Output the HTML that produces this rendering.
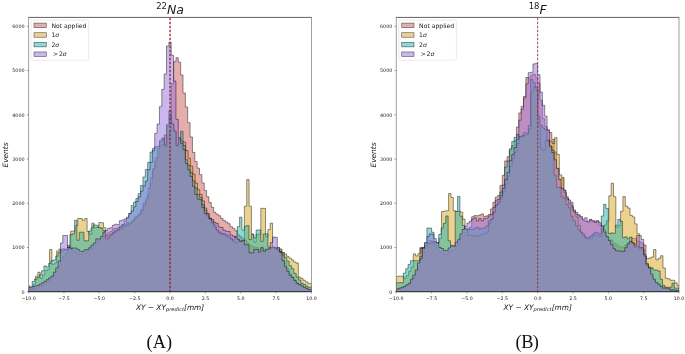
<!DOCTYPE html>
<html><head><meta charset="utf-8"><title>Histograms</title>
<style>
html,body{margin:0;padding:0;background:#fff;}
svg{display:block}
text{font-family:"DejaVu Sans","Liberation Sans",sans-serif;fill:#1a1a1a}
.tk{font-size:4.7px;fill:#222}
.lg{font-size:6.1px}
.ax{font-size:7.4px;font-style:italic}
.tt{font-size:12.5px;font-style:italic}
.cap{font-family:"Liberation Serif","DejaVu Serif",serif;font-size:18.3px;fill:#111}
</style></head><body>
<svg width="685" height="354" viewBox="0 0 685 354">
<rect width="685" height="354" fill="#fff"/>

<g>
<clipPath id="cp0"><rect x="28.60" y="17.40" width="282.90" height="274.80"/></clipPath>
<g clip-path="url(#cp0)">
<path d="M28.60 291.70L28.60 289.93L29.78 289.93L29.78 289.55L32.14 289.55L32.14 289.04L34.49 289.04L34.49 288.40L36.85 288.40L36.85 287.72L39.21 287.72L39.21 286.45L41.57 286.45L41.57 285.09L43.92 285.09L43.92 283.24L46.28 283.24L46.28 281.55L48.64 281.55L48.64 280.14L51.00 280.14L51.00 278.41L53.35 278.41L53.35 275.08L55.71 275.08L55.71 271.88L58.07 271.88L58.07 266.25L60.43 266.25L60.43 260.86L62.78 260.86L62.78 256.39L65.14 256.39L65.14 253.06L67.50 253.06L67.50 245.26L69.86 245.26L69.86 247.29L72.21 247.29L72.21 250.74L74.57 250.74L74.57 251.89L76.93 251.89L76.93 253.65L79.29 253.65L79.29 253.53L81.64 253.53L81.64 254.29L84.00 254.29L84.00 253.50L86.36 253.50L86.36 250.92L88.72 250.92L88.72 249.82L91.07 249.82L91.07 248.51L93.43 248.51L93.43 246.04L95.79 246.04L95.79 243.13L98.15 243.13L98.15 240.93L100.50 240.93L100.50 239.57L102.86 239.57L102.86 236.32L105.22 236.32L105.22 234.70L107.58 234.70L107.58 232.86L109.93 232.86L109.93 231.19L112.29 231.19L112.29 228.84L114.65 228.84L114.65 228.44L117.01 228.44L117.01 227.83L119.36 227.83L119.36 226.05L121.72 226.05L121.72 224.26L124.08 224.26L124.08 225.35L126.44 225.35L126.44 222.60L128.79 222.60L128.79 223.65L131.15 223.65L131.15 221.76L133.51 221.76L133.51 219.62L135.87 219.62L135.87 217.09L138.22 217.09L138.22 214.04L140.58 214.04L140.58 209.70L142.94 209.70L142.94 203.10L145.30 203.10L145.30 200.98L147.65 200.98L147.65 194.68L150.01 194.68L150.01 183.51L152.37 183.51L152.37 169.77L154.73 169.77L154.73 161.37L157.08 161.37L157.08 157.40L159.44 157.40L159.44 146.18L161.80 146.18L161.80 144.30L164.16 144.30L164.16 134.95L166.51 134.95L166.51 138.24L168.87 138.24L168.87 131.90L171.23 131.90L171.23 83.57L173.59 83.57L173.59 61.70L175.94 61.70L175.94 57.72L178.30 57.72L178.30 62.15L180.66 62.15L180.66 74.91L183.02 74.91L183.02 93.01L185.37 93.01L185.37 106.95L187.73 106.95L187.73 122.65L190.09 122.65L190.09 137.00L192.45 137.00L192.45 152.37L194.80 152.37L194.80 161.50L197.16 161.50L197.16 168.21L199.52 168.21L199.52 174.65L201.88 174.65L201.88 182.90L204.23 182.90L204.23 190.57L206.59 190.57L206.59 196.74L208.95 196.74L208.95 202.61L211.31 202.61L211.31 207.36L213.66 207.36L213.66 212.31L216.02 212.31L216.02 214.22L218.38 214.22L218.38 215.79L220.74 215.79L220.74 218.58L223.09 218.58L223.09 220.59L225.45 220.59L225.45 222.05L227.81 222.05L227.81 223.66L230.17 223.66L230.17 226.68L232.52 226.68L232.52 228.41L234.88 228.41L234.88 230.76L237.24 230.76L237.24 234.89L239.60 234.89L239.60 236.59L241.95 236.59L241.95 238.70L244.31 238.70L244.31 240.00L246.67 240.00L246.67 242.96L249.03 242.96L249.03 245.33L251.38 245.33L251.38 246.22L253.74 246.22L253.74 247.39L256.10 247.39L256.10 247.60L258.46 247.60L258.46 249.43L260.81 249.43L260.81 248.15L263.17 248.15L263.17 249.54L265.53 249.54L265.53 250.28L267.89 250.28L267.89 248.07L270.24 248.07L270.24 248.04L272.60 248.04L272.60 248.20L274.96 248.20L274.96 247.80L277.32 247.80L277.32 247.62L279.67 247.62L279.67 249.03L282.03 249.03L282.03 252.73L284.39 252.73L284.39 263.00L286.75 263.00L286.75 268.81L289.10 268.81L289.10 273.92L291.46 273.92L291.46 277.03L293.82 277.03L293.82 279.88L296.18 279.88L296.18 282.84L298.53 282.84L298.53 284.18L300.89 284.18L300.89 285.76L303.25 285.76L303.25 287.29L305.61 287.29L305.61 288.36L307.96 288.36L307.96 289.49L310.32 289.49L310.32 289.48L311.50 289.48L311.50 291.70 Z" fill="#cd5c5c" fill-opacity="0.5" stroke="#000" stroke-opacity="0.62" stroke-width="0.7" stroke-linejoin="miter"/>
<path d="M28.60 291.70L28.60 288.16L30.77 288.16L30.77 289.04L33.12 289.04L33.12 284.20L35.47 284.20L35.47 276.22L37.82 276.22L37.82 272.24L40.16 272.24L40.16 278.37L42.51 278.37L42.51 274.97L44.86 274.97L44.86 270.54L47.21 270.54L47.21 269.70L49.55 269.70L49.55 249.46L51.90 249.46L51.90 264.43L54.25 264.43L54.25 262.97L56.59 262.97L56.59 250.94L58.94 250.94L58.94 249.13L61.29 249.13L61.29 251.81L63.64 251.81L63.64 250.19L65.98 250.19L65.98 250.17L68.33 250.17L68.33 247.44L70.68 247.44L70.68 231.15L73.03 231.15L73.03 231.03L75.37 231.03L75.37 225.53L77.72 225.53L77.72 218.33L80.07 218.33L80.07 218.55L82.42 218.55L82.42 220.34L84.76 220.34L84.76 218.46L87.11 218.46L87.11 231.52L89.46 231.52L89.46 234.33L91.81 234.33L91.81 223.15L94.15 223.15L94.15 227.65L96.50 227.65L96.50 227.23L98.85 227.23L98.85 222.53L101.19 222.53L101.19 222.78L103.54 222.78L103.54 227.70L105.89 227.70L105.89 236.18L108.24 236.18L108.24 235.72L110.58 235.72L110.58 234.48L112.93 234.48L112.93 232.18L115.28 232.18L115.28 231.04L117.63 231.04L117.63 229.88L119.97 229.88L119.97 229.35L122.32 229.35L122.32 227.19L124.67 227.19L124.67 225.38L127.02 225.38L127.02 224.82L129.36 224.82L129.36 223.27L131.71 223.27L131.71 220.97L134.06 220.97L134.06 217.14L136.41 217.14L136.41 216.12L138.75 216.12L138.75 214.50L141.10 214.50L141.10 210.96L143.45 210.96L143.45 205.50L145.79 205.50L145.79 198.29L148.14 198.29L148.14 188.13L150.49 188.13L150.49 177.71L152.84 177.71L152.84 168.47L155.18 168.47L155.18 158.04L157.53 158.04L157.53 148.19L159.88 148.19L159.88 141.83L162.23 141.83L162.23 138.65L164.57 138.65L164.57 146.29L166.92 146.29L166.92 125.46L169.27 125.46L169.27 116.37L171.62 116.37L171.62 124.17L173.96 124.17L173.96 131.90L176.31 131.90L176.31 145.61L178.66 145.61L178.66 139.43L181.00 139.43L181.00 141.42L183.35 141.42L183.35 142.11L185.70 142.11L185.70 150.60L188.05 150.60L188.05 158.26L190.39 158.26L190.39 166.05L192.74 166.05L192.74 174.22L195.09 174.22L195.09 183.14L197.44 183.14L197.44 189.70L199.78 189.70L199.78 194.42L202.13 194.42L202.13 200.92L204.48 200.92L204.48 208.10L206.83 208.10L206.83 213.37L209.17 213.37L209.17 218.30L211.52 218.30L211.52 221.23L213.87 221.23L213.87 226.95L216.22 226.95L216.22 230.05L218.56 230.05L218.56 231.80L220.91 231.80L220.91 234.42L223.26 234.42L223.26 233.78L225.60 233.78L225.60 236.29L227.95 236.29L227.95 238.05L230.30 238.05L230.30 239.31L232.65 239.31L232.65 241.86L234.99 241.86L234.99 242.80L237.34 242.80L237.34 241.30L239.69 241.30L239.69 240.89L242.04 240.89L242.04 240.85L244.38 240.85L244.38 206.20L246.73 206.20L246.73 179.62L249.08 179.62L249.08 206.20L251.43 206.20L251.43 233.92L253.77 233.92L253.77 242.08L256.12 242.08L256.12 234.29L258.47 234.29L258.47 234.16L260.82 234.16L260.82 208.33L263.16 208.33L263.16 208.33L265.51 208.33L265.51 236.71L267.86 236.71L267.86 229.57L270.20 229.57L270.20 223.11L272.55 223.11L272.55 247.28L274.90 247.28L274.90 248.46L277.25 248.46L277.25 249.89L279.59 249.89L279.59 251.26L281.94 251.26L281.94 252.58L284.29 252.58L284.29 253.91L286.64 253.91L286.64 256.32L288.98 256.32L288.98 258.18L291.33 258.18L291.33 259.96L293.68 259.96L293.68 261.99L296.03 261.99L296.03 263.10L298.37 263.10L298.37 277.04L300.72 277.04L300.72 278.54L303.07 278.54L303.07 280.25L305.42 280.25L305.42 281.80L307.76 281.80L307.76 283.34L310.11 283.34L310.11 283.44L311.50 283.44L311.50 291.70 Z" fill="#daa520" fill-opacity="0.5" stroke="#000" stroke-opacity="0.62" stroke-width="0.7" stroke-linejoin="miter"/>
<path d="M28.60 291.70L28.60 285.74L29.78 285.74L29.78 287.27L32.14 287.27L32.14 281.47L34.49 281.47L34.49 279.28L36.85 279.28L36.85 277.60L39.21 277.60L39.21 274.73L41.57 274.73L41.57 270.79L43.92 270.79L43.92 265.93L46.28 265.93L46.28 267.00L48.64 267.00L48.64 263.41L51.00 263.41L51.00 260.64L53.35 260.64L53.35 259.97L55.71 259.97L55.71 256.16L58.07 256.16L58.07 252.55L60.43 252.55L60.43 249.85L62.78 249.85L62.78 248.69L65.14 248.69L65.14 249.49L67.50 249.49L67.50 247.53L69.86 247.53L69.86 234.52L72.21 234.52L72.21 233.89L74.57 233.89L74.57 220.27L76.93 220.27L76.93 240.25L79.29 240.25L79.29 232.23L81.64 232.23L81.64 232.17L84.00 232.17L84.00 240.73L86.36 240.73L86.36 240.79L88.72 240.79L88.72 230.90L91.07 230.90L91.07 227.82L93.43 227.82L93.43 224.95L95.79 224.95L95.79 225.21L98.15 225.21L98.15 227.55L100.50 227.55L100.50 228.12L102.86 228.12L102.86 230.65L105.22 230.65L105.22 238.87L107.58 238.87L107.58 237.84L109.93 237.84L109.93 234.64L112.29 234.64L112.29 232.86L114.65 232.86L114.65 230.60L117.01 230.60L117.01 229.70L119.36 229.70L119.36 227.45L121.72 227.45L121.72 225.03L124.08 225.03L124.08 221.15L126.44 221.15L126.44 218.49L128.79 218.49L128.79 213.62L131.15 213.62L131.15 205.58L133.51 205.58L133.51 202.12L135.87 202.12L135.87 198.61L138.22 198.61L138.22 193.65L140.58 193.65L140.58 185.48L142.94 185.48L142.94 176.95L145.30 176.95L145.30 169.49L147.65 169.49L147.65 162.30L150.01 162.30L150.01 152.15L152.37 152.15L152.37 148.48L154.73 148.48L154.73 146.87L157.08 146.87L157.08 146.30L159.44 146.30L159.44 140.56L161.80 140.56L161.80 137.91L164.16 137.91L164.16 145.16L166.51 145.16L166.51 124.68L168.87 124.68L168.87 110.36L171.23 110.36L171.23 123.82L173.59 123.82L173.59 130.59L175.94 130.59L175.94 145.61L178.30 145.61L178.30 138.47L180.66 138.47L180.66 131.37L183.02 131.37L183.02 145.57L185.37 145.57L185.37 159.67L187.73 159.67L187.73 165.50L190.09 165.50L190.09 172.64L192.45 172.64L192.45 180.82L194.80 180.82L194.80 188.16L197.16 188.16L197.16 194.38L199.52 194.38L199.52 197.37L201.88 197.37L201.88 204.58L204.23 204.58L204.23 210.28L206.59 210.28L206.59 215.96L208.95 215.96L208.95 218.66L211.31 218.66L211.31 222.81L213.66 222.81L213.66 225.19L216.02 225.19L216.02 230.11L218.38 230.11L218.38 232.96L220.74 232.96L220.74 233.19L223.09 233.19L223.09 234.15L225.45 234.15L225.45 235.04L227.81 235.04L227.81 235.72L230.17 235.72L230.17 238.66L232.52 238.66L232.52 240.20L234.88 240.20L234.88 236.41L237.24 236.41L237.24 226.68L239.60 226.68L239.60 217.17L241.95 217.17L241.95 230.04L244.31 230.04L244.31 226.13L246.67 226.13L246.67 225.73L249.03 225.73L249.03 239.60L251.38 239.60L251.38 234.42L253.74 234.42L253.74 237.98L256.10 237.98L256.10 230.08L258.46 230.08L258.46 229.91L260.81 229.91L260.81 241.32L263.17 241.32L263.17 233.92L265.53 233.92L265.53 233.82L267.89 233.82L267.89 247.07L270.24 247.07L270.24 247.26L272.60 247.26L272.60 247.22L274.96 247.22L274.96 248.26L277.32 248.26L277.32 249.89L279.67 249.89L279.67 251.78L282.03 251.78L282.03 254.91L284.39 254.91L284.39 257.43L286.75 257.43L286.75 261.24L289.10 261.24L289.10 265.65L291.46 265.65L291.46 268.67L293.82 268.67L293.82 273.33L296.18 273.33L296.18 277.06L298.53 277.06L298.53 280.00L300.89 280.00L300.89 283.31L303.25 283.31L303.25 284.43L305.61 284.43L305.61 286.06L307.96 286.06L307.96 287.25L310.32 287.25L310.32 287.29L311.50 287.29L311.50 291.70 Z" fill="#20b2aa" fill-opacity="0.5" stroke="#000" stroke-opacity="0.62" stroke-width="0.7" stroke-linejoin="miter"/>
<path d="M28.60 291.70L28.60 287.72L29.78 287.72L29.78 287.07L32.14 287.07L32.14 286.70L34.49 286.70L34.49 286.03L36.85 286.03L36.85 285.40L39.21 285.40L39.21 284.21L41.57 284.21L41.57 282.83L43.92 282.83L43.92 281.33L46.28 281.33L46.28 279.69L48.64 279.69L48.64 277.88L51.00 277.88L51.00 276.23L53.35 276.23L53.35 272.20L55.71 272.20L55.71 267.90L58.07 267.90L58.07 261.04L60.43 261.04L60.43 243.05L62.78 243.05L62.78 235.53L65.14 235.53L65.14 235.53L67.50 235.53L67.50 247.44L69.86 247.44L69.86 248.64L72.21 248.64L72.21 248.07L74.57 248.07L74.57 248.02L76.93 248.02L76.93 249.45L79.29 249.45L79.29 251.14L81.64 251.14L81.64 251.58L84.00 251.58L84.00 249.75L86.36 249.75L86.36 249.48L88.72 249.48L88.72 247.69L91.07 247.69L91.07 245.08L93.43 245.08L93.43 242.93L95.79 242.93L95.79 238.83L98.15 238.83L98.15 239.04L100.50 239.04L100.50 236.46L102.86 236.46L102.86 232.11L105.22 232.11L105.22 230.64L107.58 230.64L107.58 228.39L109.93 228.39L109.93 227.71L112.29 227.71L112.29 225.28L114.65 225.28L114.65 224.20L117.01 224.20L117.01 224.70L119.36 224.70L119.36 220.72L121.72 220.72L121.72 220.07L124.08 220.07L124.08 218.95L126.44 218.95L126.44 217.15L128.79 217.15L128.79 213.58L131.15 213.58L131.15 211.14L133.51 211.14L133.51 206.83L135.87 206.83L135.87 201.47L138.22 201.47L138.22 196.84L140.58 196.84L140.58 191.11L142.94 191.11L142.94 186.02L145.30 186.02L145.30 181.09L147.65 181.09L147.65 169.81L150.01 169.81L150.01 162.39L152.37 162.39L152.37 150.56L154.73 150.56L154.73 133.37L157.08 133.37L157.08 124.09L159.44 124.09L159.44 106.70L161.80 106.70L161.80 89.37L164.16 89.37L164.16 73.96L166.51 73.96L166.51 45.96L168.87 45.96L168.87 42.42L171.23 42.42L171.23 55.29L173.59 55.29L173.59 81.12L175.94 81.12L175.94 119.38L178.30 119.38L178.30 137.73L180.66 137.73L180.66 143.47L183.02 143.47L183.02 149.71L185.37 149.71L185.37 163.41L187.73 163.41L187.73 169.77L190.09 169.77L190.09 176.45L192.45 176.45L192.45 186.28L194.80 186.28L194.80 194.38L197.16 194.38L197.16 199.05L199.52 199.05L199.52 199.72L201.88 199.72L201.88 207.32L204.23 207.32L204.23 213.64L206.59 213.64L206.59 213.95L208.95 213.95L208.95 218.59L211.31 218.59L211.31 219.51L213.66 219.51L213.66 222.51L216.02 222.51L216.02 223.38L218.38 223.38L218.38 227.03L220.74 227.03L220.74 227.50L223.09 227.50L223.09 230.34L225.45 230.34L225.45 231.27L227.81 231.27L227.81 231.48L230.17 231.48L230.17 234.89L232.52 234.89L232.52 236.10L234.88 236.10L234.88 237.43L237.24 237.43L237.24 239.43L239.60 239.43L239.60 241.36L241.95 241.36L241.95 240.56L244.31 240.56L244.31 244.84L246.67 244.84L246.67 244.77L249.03 244.77L249.03 252.86L251.38 252.86L251.38 252.94L253.74 252.94L253.74 249.34L256.10 249.34L256.10 249.51L258.46 249.51L258.46 252.13L260.81 252.13L260.81 247.41L263.17 247.41L263.17 251.40L265.53 251.40L265.53 249.23L267.89 249.23L267.89 249.04L270.24 249.04L270.24 242.56L272.60 242.56L272.60 237.12L274.96 237.12L274.96 237.31L277.32 237.31L277.32 247.73L279.67 247.73L279.67 252.58L282.03 252.58L282.03 260.67L284.39 260.67L284.39 266.78L286.75 266.78L286.75 271.43L289.10 271.43L289.10 275.19L291.46 275.19L291.46 277.48L293.82 277.48L293.82 280.44L296.18 280.44L296.18 283.34L298.53 283.34L298.53 284.51L300.89 284.51L300.89 285.86L303.25 285.86L303.25 287.25L305.61 287.25L305.61 288.34L307.96 288.34L307.96 289.50L310.32 289.50L310.32 289.55L311.50 289.55L311.50 291.70 Z" fill="#9370db" fill-opacity="0.5" stroke="#000" stroke-opacity="0.62" stroke-width="0.7" stroke-linejoin="miter"/>
</g>
<line x1="170.05" y1="17.70" x2="170.05" y2="291.70" stroke="#96202c" stroke-width="1.30" stroke-dasharray="2.5 1.5" stroke-dashoffset="0"/>
<line x1="28.30" y1="17.40" x2="311.80" y2="17.40" stroke="#3a3a3a" stroke-width="0.8"/>
<line x1="28.30" y1="291.70" x2="311.80" y2="291.70" stroke="#3a3a3a" stroke-width="0.8"/>
<line x1="28.60" y1="17.40" x2="28.60" y2="291.70" stroke="#777" stroke-width="0.7"/>
<line x1="311.50" y1="17.40" x2="311.50" y2="291.70" stroke="#777" stroke-width="0.7"/>
<line x1="28.60" y1="291.70" x2="28.60" y2="293.50" stroke="#333" stroke-width="0.45"/>
<text class="tk" x="28.60" y="300.10" text-anchor="middle">−10.0</text>
<line x1="63.96" y1="291.70" x2="63.96" y2="293.50" stroke="#333" stroke-width="0.45"/>
<text class="tk" x="63.96" y="300.10" text-anchor="middle">−7.5</text>
<line x1="99.32" y1="291.70" x2="99.32" y2="293.50" stroke="#333" stroke-width="0.45"/>
<text class="tk" x="99.32" y="300.10" text-anchor="middle">−5.0</text>
<line x1="134.69" y1="291.70" x2="134.69" y2="293.50" stroke="#333" stroke-width="0.45"/>
<text class="tk" x="134.69" y="300.10" text-anchor="middle">−2.5</text>
<line x1="170.05" y1="291.70" x2="170.05" y2="293.50" stroke="#333" stroke-width="0.45"/>
<text class="tk" x="170.05" y="300.10" text-anchor="middle">0.0</text>
<line x1="205.41" y1="291.70" x2="205.41" y2="293.50" stroke="#333" stroke-width="0.45"/>
<text class="tk" x="205.41" y="300.10" text-anchor="middle">2.5</text>
<line x1="240.77" y1="291.70" x2="240.77" y2="293.50" stroke="#333" stroke-width="0.45"/>
<text class="tk" x="240.77" y="300.10" text-anchor="middle">5.0</text>
<line x1="276.14" y1="291.70" x2="276.14" y2="293.50" stroke="#333" stroke-width="0.45"/>
<text class="tk" x="276.14" y="300.10" text-anchor="middle">7.5</text>
<line x1="311.50" y1="291.70" x2="311.50" y2="293.50" stroke="#333" stroke-width="0.45"/>
<text class="tk" x="311.50" y="300.10" text-anchor="middle">10.0</text>
<line x1="26.80" y1="291.70" x2="28.60" y2="291.70" stroke="#333" stroke-width="0.45"/>
<text class="tk" style="font-size:4.85px" x="24.60" y="293.50" text-anchor="end">0</text>
<line x1="26.80" y1="247.47" x2="28.60" y2="247.47" stroke="#333" stroke-width="0.45"/>
<text class="tk" style="font-size:4.85px" x="24.60" y="249.27" text-anchor="end">1000</text>
<line x1="26.80" y1="203.24" x2="28.60" y2="203.24" stroke="#333" stroke-width="0.45"/>
<text class="tk" style="font-size:4.85px" x="24.60" y="205.04" text-anchor="end">2000</text>
<line x1="26.80" y1="159.01" x2="28.60" y2="159.01" stroke="#333" stroke-width="0.45"/>
<text class="tk" style="font-size:4.85px" x="24.60" y="160.81" text-anchor="end">3000</text>
<line x1="26.80" y1="114.78" x2="28.60" y2="114.78" stroke="#333" stroke-width="0.45"/>
<text class="tk" style="font-size:4.85px" x="24.60" y="116.58" text-anchor="end">4000</text>
<line x1="26.80" y1="70.55" x2="28.60" y2="70.55" stroke="#333" stroke-width="0.45"/>
<text class="tk" style="font-size:4.85px" x="24.60" y="72.35" text-anchor="end">5000</text>
<line x1="26.80" y1="26.32" x2="28.60" y2="26.32" stroke="#333" stroke-width="0.45"/>
<text class="tk" style="font-size:4.85px" x="24.60" y="28.12" text-anchor="end">6000</text>
<text class="ax" text-anchor="middle" transform="translate(8.10,155.00) rotate(-90)">Events</text>
<text class="ax" x="170.05" y="310.00" text-anchor="middle">XY − XY<tspan font-size="5.15px" dy="1.3">predict</tspan><tspan dy="-1.3">[mm]</tspan></text>
<text class="tt" x="170.05" y="13.90" text-anchor="middle"><tspan font-size="8.5px" font-style="normal" dy="-5.4">22</tspan><tspan dy="5.4">Na</tspan></text>
<rect x="31.10" y="20.20" width="57.6" height="40" rx="1.2" fill="#fff" fill-opacity="0.8" stroke="#d4d4d4" stroke-width="0.5"/>
<rect x="34.00" y="23.10" width="12.3" height="4.5" fill="#cd5c5c" fill-opacity="0.5" stroke="#000" stroke-opacity="0.6" stroke-width="0.65"/>
<text class="lg" x="51.40" y="27.60">Not applied</text>
<rect x="34.00" y="32.72" width="12.3" height="4.5" fill="#daa520" fill-opacity="0.5" stroke="#000" stroke-opacity="0.6" stroke-width="0.65"/>
<text class="lg" x="51.40" y="37.22">1<tspan font-style="italic">σ</tspan></text>
<rect x="34.00" y="42.34" width="12.3" height="4.5" fill="#20b2aa" fill-opacity="0.5" stroke="#000" stroke-opacity="0.6" stroke-width="0.65"/>
<text class="lg" x="51.40" y="46.84">2<tspan font-style="italic">σ</tspan></text>
<rect x="34.00" y="51.96" width="12.3" height="4.5" fill="#9370db" fill-opacity="0.5" stroke="#000" stroke-opacity="0.6" stroke-width="0.65"/>
<text class="lg" x="51.40" y="56.46"><tspan dx="1.6">&gt;</tspan><tspan dx="0.8">2</tspan><tspan font-style="italic">σ</tspan></text>
<text class="cap" x="159.30" y="348.40" text-anchor="middle">(A)</text>
</g>
<g>
<clipPath id="cp1"><rect x="396.30" y="17.40" width="282.70" height="274.80"/></clipPath>
<g clip-path="url(#cp1)">
<path d="M396.30 291.70L396.30 289.48L398.66 289.48L398.66 288.78L401.01 288.78L401.01 287.94L403.37 287.94L403.37 287.30L405.73 287.30L405.73 286.09L408.08 286.09L408.08 284.62L410.44 284.62L410.44 281.08L412.79 281.08L412.79 277.56L415.15 277.56L415.15 273.16L417.50 273.16L417.50 266.89L419.86 266.89L419.86 247.50L422.22 247.50L422.22 251.78L424.57 251.78L424.57 247.46L426.93 247.46L426.93 243.00L429.28 243.00L429.28 240.75L431.64 240.75L431.64 241.62L434.00 241.62L434.00 245.08L436.35 245.08L436.35 248.80L438.71 248.80L438.71 251.71L441.06 251.71L441.06 251.87L443.42 251.87L443.42 254.39L445.77 254.39L445.77 254.01L448.13 254.01L448.13 251.92L450.49 251.92L450.49 250.58L452.84 250.58L452.84 249.58L455.20 249.58L455.20 245.88L457.55 245.88L457.55 243.42L459.91 243.42L459.91 238.33L462.27 238.33L462.27 235.63L464.62 235.63L464.62 232.19L466.98 232.19L466.98 228.97L469.33 228.97L469.33 227.19L471.69 227.19L471.69 216.73L474.04 216.73L474.04 215.59L476.40 215.59L476.40 215.77L478.76 215.77L478.76 215.08L481.11 215.08L481.11 213.93L483.47 213.93L483.47 216.45L485.82 216.45L485.82 215.85L488.18 215.85L488.18 214.39L490.54 214.39L490.54 209.01L492.89 209.01L492.89 202.43L495.25 202.43L495.25 197.15L497.60 197.15L497.60 195.47L499.96 195.47L499.96 185.39L502.31 185.39L502.31 175.29L504.67 175.29L504.67 160.89L507.03 160.89L507.03 156.81L509.38 156.81L509.38 150.16L511.74 150.16L511.74 145.58L514.09 145.58L514.09 140.84L516.45 140.84L516.45 127.06L518.81 127.06L518.81 113.02L521.16 113.02L521.16 106.26L523.52 106.26L523.52 96.37L525.87 96.37L525.87 77.47L528.23 77.47L528.23 77.98L530.58 77.98L530.58 75.41L532.94 75.41L532.94 74.08L535.30 74.08L535.30 76.89L537.65 76.89L537.65 82.86L540.01 82.86L540.01 100.42L542.36 100.42L542.36 118.51L544.72 118.51L544.72 126.47L547.08 126.47L547.08 130.47L549.43 130.47L549.43 132.52L551.79 132.52L551.79 139.28L554.14 139.28L554.14 151.97L556.50 151.97L556.50 168.17L558.85 168.17L558.85 179.64L561.21 179.64L561.21 178.34L563.57 178.34L563.57 190.61L565.92 190.61L565.92 197.99L568.28 197.99L568.28 202.86L570.63 202.86L570.63 205.01L572.99 205.01L572.99 210.85L575.35 210.85L575.35 214.18L577.70 214.18L577.70 215.46L580.06 215.46L580.06 217.69L582.41 217.69L582.41 220.14L584.77 220.14L584.77 221.33L587.12 221.33L587.12 222.23L589.48 222.23L589.48 219.88L591.84 219.88L591.84 221.30L594.19 221.30L594.19 220.88L596.55 220.88L596.55 221.07L598.90 221.07L598.90 225.23L601.26 225.23L601.26 226.24L603.62 226.24L603.62 229.70L605.97 229.70L605.97 236.35L608.33 236.35L608.33 239.84L610.68 239.84L610.68 240.19L613.04 240.19L613.04 243.22L615.39 243.22L615.39 244.18L617.75 244.18L617.75 246.55L620.11 246.55L620.11 246.87L622.46 246.87L622.46 247.28L624.82 247.28L624.82 245.10L627.17 245.10L627.17 242.91L629.53 242.91L629.53 240.92L631.89 240.92L631.89 238.15L634.24 238.15L634.24 238.50L636.60 238.50L636.60 241.06L638.95 241.06L638.95 241.75L641.31 241.75L641.31 243.18L643.66 243.18L643.66 245.11L646.02 245.11L646.02 263.06L648.38 263.06L648.38 266.85L650.73 266.85L650.73 276.20L653.09 276.20L653.09 280.70L655.44 280.70L655.44 283.29L657.80 283.29L657.80 285.00L660.16 285.00L660.16 286.81L662.51 286.81L662.51 287.35L664.87 287.35L664.87 287.96L667.22 287.96L667.22 288.60L669.58 288.60L669.58 289.12L671.93 289.12L671.93 289.45L674.29 289.45L674.29 289.98L676.65 289.98L676.65 290.37L679.00 290.37L679.00 290.37L679.00 290.37L679.00 291.70 Z" fill="#cd5c5c" fill-opacity="0.5" stroke="#000" stroke-opacity="0.62" stroke-width="0.7" stroke-linejoin="miter"/>
<path d="M396.30 291.70L396.30 276.30L399.13 276.30L399.13 276.17L401.48 276.17L401.48 276.23L403.84 276.23L403.84 278.40L406.20 278.40L406.20 275.69L408.55 275.69L408.55 271.34L410.91 271.34L410.91 266.93L413.26 266.93L413.26 253.86L415.62 253.86L415.62 255.97L417.97 255.97L417.97 253.66L420.33 253.66L420.33 248.48L422.69 248.48L422.69 247.31L425.04 247.31L425.04 245.59L427.40 245.59L427.40 243.30L429.75 243.30L429.75 243.67L432.11 243.67L432.11 241.85L434.47 241.85L434.47 243.88L436.82 243.88L436.82 243.07L439.18 243.07L439.18 238.35L441.53 238.35L441.53 211.62L443.89 211.62L443.89 211.06L446.24 211.06L446.24 210.72L448.60 210.72L448.60 193.51L450.96 193.51L450.96 197.40L453.31 197.40L453.31 210.76L455.67 210.76L455.67 211.51L458.02 211.51L458.02 211.13L460.38 211.13L460.38 212.20L462.74 212.20L462.74 219.33L465.09 219.33L465.09 229.80L467.45 229.80L467.45 235.29L469.80 235.29L469.80 235.29L472.16 235.29L472.16 235.87L474.51 235.87L474.51 235.69L476.87 235.69L476.87 236.24L479.23 236.24L479.23 235.74L481.58 235.74L481.58 233.72L483.94 233.72L483.94 233.97L486.29 233.97L486.29 231.94L488.65 231.94L488.65 223.33L491.01 223.33L491.01 218.76L493.36 218.76L493.36 212.23L495.72 212.23L495.72 204.85L498.07 204.85L498.07 203.38L500.43 203.38L500.43 199.30L502.78 199.30L502.78 191.92L505.14 191.92L505.14 184.33L507.50 184.33L507.50 176.14L509.85 176.14L509.85 166.13L512.21 166.13L512.21 158.63L514.56 158.63L514.56 152.51L516.92 152.51L516.92 143.66L519.28 143.66L519.28 136.65L521.63 136.65L521.63 135.50L523.99 135.50L523.99 135.34L526.34 135.34L526.34 134.30L528.70 134.30L528.70 128.85L531.05 128.85L531.05 92.16L533.41 92.16L533.41 86.94L535.77 86.94L535.77 89.98L538.12 89.98L538.12 127.15L540.48 127.15L540.48 149.10L542.83 149.10L542.83 150.18L545.19 150.18L545.19 140.03L547.55 140.03L547.55 140.27L549.90 140.27L549.90 141.22L552.26 141.22L552.26 143.46L554.61 143.46L554.61 137.65L556.97 137.65L556.97 154.46L559.32 154.46L559.32 174.84L561.68 174.84L561.68 177.39L564.04 177.39L564.04 192.62L566.39 192.62L566.39 199.03L568.75 199.03L568.75 203.28L571.10 203.28L571.10 207.15L573.46 207.15L573.46 212.10L575.82 212.10L575.82 216.84L578.17 216.84L578.17 225.48L580.53 225.48L580.53 233.00L582.88 233.00L582.88 236.42L585.24 236.42L585.24 238.84L587.59 238.84L587.59 238.90L589.95 238.90L589.95 238.66L592.31 238.66L592.31 235.95L594.66 235.95L594.66 234.88L597.02 234.88L597.02 235.67L599.37 235.67L599.37 236.44L601.73 236.44L601.73 229.57L604.09 229.57L604.09 225.05L606.44 225.05L606.44 220.78L608.80 220.78L608.80 195.82L611.15 195.82L611.15 183.29L613.51 183.29L613.51 196.69L615.86 196.69L615.86 227.28L618.22 227.28L618.22 225.53L620.58 225.53L620.58 211.31L622.93 211.31L622.93 196.61L625.29 196.61L625.29 206.25L627.64 206.25L627.64 208.02L630.00 208.02L630.00 215.48L632.36 215.48L632.36 216.90L634.71 216.90L634.71 223.88L637.07 223.88L637.07 233.72L639.42 233.72L639.42 247.51L641.78 247.51L641.78 249.63L644.13 249.63L644.13 256.22L646.49 256.22L646.49 258.62L648.85 258.62L648.85 257.98L651.20 257.98L651.20 256.96L653.56 256.96L653.56 249.59L655.91 249.59L655.91 259.82L658.27 259.82L658.27 258.26L660.63 258.26L660.63 255.68L662.98 255.68L662.98 267.96L665.34 267.96L665.34 278.16L667.69 278.16L667.69 278.81L670.05 278.81L670.05 280.25L672.40 280.25L672.40 280.24L674.76 280.24L674.76 282.84L677.12 282.84L677.12 285.36L679.00 285.36L679.00 285.44L679.00 285.44L679.00 291.70 Z" fill="#daa520" fill-opacity="0.5" stroke="#000" stroke-opacity="0.62" stroke-width="0.7" stroke-linejoin="miter"/>
<path d="M396.30 291.70L396.30 282.81L398.66 282.81L398.66 282.61L401.01 282.61L401.01 282.81L403.37 282.81L403.37 273.12L405.73 273.12L405.73 268.77L408.08 268.77L408.08 264.44L410.44 264.44L410.44 260.76L412.79 260.76L412.79 260.78L415.15 260.78L415.15 260.70L417.50 260.70L417.50 260.75L419.86 260.75L419.86 256.29L422.22 256.29L422.22 247.45L424.57 247.45L424.57 242.89L426.93 242.89L426.93 227.98L429.28 227.98L429.28 228.05L431.64 228.05L431.64 232.26L434.00 232.26L434.00 241.54L436.35 241.54L436.35 242.77L438.71 242.77L438.71 234.32L441.06 234.32L441.06 228.00L443.42 228.00L443.42 223.32L445.77 223.32L445.77 215.94L448.13 215.94L448.13 240.84L450.49 240.84L450.49 245.26L452.84 245.26L452.84 246.59L455.20 246.59L455.20 211.42L457.55 211.42L457.55 196.38L459.91 196.38L459.91 216.15L462.27 216.15L462.27 225.48L464.62 225.48L464.62 228.53L466.98 228.53L466.98 229.25L469.33 229.25L469.33 229.45L471.69 229.45L471.69 229.34L474.04 229.34L474.04 227.90L476.40 227.90L476.40 227.24L478.76 227.24L478.76 229.03L481.11 229.03L481.11 228.27L483.47 228.27L483.47 228.01L485.82 228.01L485.82 226.00L488.18 226.00L488.18 220.81L490.54 220.81L490.54 219.10L492.89 219.10L492.89 211.99L495.25 211.99L495.25 205.15L497.60 205.15L497.60 201.54L499.96 201.54L499.96 192.01L502.31 192.01L502.31 184.96L504.67 184.96L504.67 167.13L507.03 167.13L507.03 161.09L509.38 161.09L509.38 148.75L511.74 148.75L511.74 141.41L514.09 141.41L514.09 137.47L516.45 137.47L516.45 134.44L518.81 134.44L518.81 136.82L521.16 136.82L521.16 136.89L523.52 136.89L523.52 132.68L525.87 132.68L525.87 133.24L528.23 133.24L528.23 125.38L530.58 125.38L530.58 79.53L532.94 79.53L532.94 82.71L535.30 82.71L535.30 87.31L537.65 87.31L537.65 116.35L540.01 116.35L540.01 125.52L542.36 125.52L542.36 128.03L544.72 128.03L544.72 129.87L547.08 129.87L547.08 140.89L549.43 140.89L549.43 146.50L551.79 146.50L551.79 150.27L554.14 150.27L554.14 175.43L556.50 175.43L556.50 187.45L558.85 187.45L558.85 187.01L561.21 187.01L561.21 196.94L563.57 196.94L563.57 198.57L565.92 198.57L565.92 204.55L568.28 204.55L568.28 207.76L570.63 207.76L570.63 216.22L572.99 216.22L572.99 220.59L575.35 220.59L575.35 225.81L577.70 225.81L577.70 229.77L580.06 229.77L580.06 231.98L582.41 231.98L582.41 234.00L584.77 234.00L584.77 237.06L587.12 237.06L587.12 237.77L589.48 237.77L589.48 236.41L591.84 236.41L591.84 234.33L594.19 234.33L594.19 232.22L596.55 232.22L596.55 232.83L598.90 232.83L598.90 233.98L601.26 233.98L601.26 216.04L603.62 216.04L603.62 204.30L605.97 204.30L605.97 208.41L608.33 208.41L608.33 233.54L610.68 233.54L610.68 232.90L613.04 232.90L613.04 233.27L615.39 233.27L615.39 225.15L617.75 225.15L617.75 219.47L620.11 219.47L620.11 221.10L622.46 221.10L622.46 237.53L624.82 237.53L624.82 236.86L627.17 236.86L627.17 238.90L629.53 238.90L629.53 237.11L631.89 237.11L631.89 243.05L634.24 243.05L634.24 247.21L636.60 247.21L636.60 246.19L638.95 246.19L638.95 248.19L641.31 248.19L641.31 247.28L643.66 247.28L643.66 256.18L646.02 256.18L646.02 265.25L648.38 265.25L648.38 267.95L650.73 267.95L650.73 267.86L653.09 267.86L653.09 269.97L655.44 269.97L655.44 270.13L657.80 270.13L657.80 271.04L660.16 271.04L660.16 279.32L662.51 279.32L662.51 285.37L664.87 285.37L664.87 287.25L667.22 287.25L667.22 287.18L669.58 287.18L669.58 287.29L671.93 287.29L671.93 283.29L674.29 283.29L674.29 288.16L676.65 288.16L676.65 288.17L679.00 288.17L679.00 288.16L679.00 288.16L679.00 291.70 Z" fill="#20b2aa" fill-opacity="0.5" stroke="#000" stroke-opacity="0.62" stroke-width="0.7" stroke-linejoin="miter"/>
<path d="M396.30 291.70L396.30 289.06L398.66 289.06L398.66 288.08L401.01 288.08L401.01 287.35L403.37 287.35L403.37 286.37L405.73 286.37L405.73 284.85L408.08 284.85L408.08 283.29L410.44 283.29L410.44 279.19L412.79 279.19L412.79 275.15L415.15 275.15L415.15 270.08L417.50 270.08L417.50 262.97L419.86 262.97L419.86 258.91L422.22 258.91L422.22 248.45L424.57 248.45L424.57 242.46L426.93 242.46L426.93 236.64L429.28 236.64L429.28 233.94L431.64 233.94L431.64 234.36L434.00 234.36L434.00 238.68L436.35 238.68L436.35 242.55L438.71 242.55L438.71 247.40L441.06 247.40L441.06 248.53L443.42 248.53L443.42 250.52L445.77 250.52L445.77 250.68L448.13 250.68L448.13 248.03L450.49 248.03L450.49 245.84L452.84 245.84L452.84 245.80L455.20 245.80L455.20 242.37L457.55 242.37L457.55 239.72L459.91 239.72L459.91 233.88L462.27 233.88L462.27 229.44L464.62 229.44L464.62 226.48L466.98 226.48L466.98 223.10L469.33 223.10L469.33 221.18L471.69 221.18L471.69 218.99L474.04 218.99L474.04 217.80L476.40 217.80L476.40 220.95L478.76 220.95L478.76 218.38L481.11 218.38L481.11 220.76L483.47 220.76L483.47 218.36L485.82 218.36L485.82 218.16L488.18 218.16L488.18 216.07L490.54 216.07L490.54 214.52L492.89 214.52L492.89 207.36L495.25 207.36L495.25 200.18L497.60 200.18L497.60 199.23L499.96 199.23L499.96 196.07L502.31 196.07L502.31 188.42L504.67 188.42L504.67 179.60L507.03 179.60L507.03 172.42L509.38 172.42L509.38 160.73L511.74 160.73L511.74 154.51L514.09 154.51L514.09 147.49L516.45 147.49L516.45 139.13L518.81 139.13L518.81 120.18L521.16 120.18L521.16 109.06L523.52 109.06L523.52 98.00L525.87 98.00L525.87 83.82L528.23 83.82L528.23 72.67L530.58 72.67L530.58 72.32L532.94 72.32L532.94 63.92L535.30 63.92L535.30 63.47L537.65 63.47L537.65 74.71L540.01 74.71L540.01 92.09L542.36 92.09L542.36 105.36L544.72 105.36L544.72 116.13L547.08 116.13L547.08 129.63L549.43 129.63L549.43 146.01L551.79 146.01L551.79 152.61L554.14 152.61L554.14 159.75L556.50 159.75L556.50 168.58L558.85 168.58L558.85 179.49L561.21 179.49L561.21 188.63L563.57 188.63L563.57 190.00L565.92 190.00L565.92 196.80L568.28 196.80L568.28 199.98L570.63 199.98L570.63 202.22L572.99 202.22L572.99 210.02L575.35 210.02L575.35 212.40L577.70 212.40L577.70 214.75L580.06 214.75L580.06 216.43L582.41 216.43L582.41 219.23L584.77 219.23L584.77 217.69L587.12 217.69L587.12 221.28L589.48 221.28L589.48 219.31L591.84 219.31L591.84 220.80L594.19 220.80L594.19 222.37L596.55 222.37L596.55 220.77L598.90 220.77L598.90 222.69L601.26 222.69L601.26 225.88L603.62 225.88L603.62 232.08L605.97 232.08L605.97 236.74L608.33 236.74L608.33 240.62L610.68 240.62L610.68 244.68L613.04 244.68L613.04 248.59L615.39 248.59L615.39 250.84L617.75 250.84L617.75 250.97L620.11 250.97L620.11 251.03L622.46 251.03L622.46 251.48L624.82 251.48L624.82 247.72L627.17 247.72L627.17 243.89L629.53 243.89L629.53 241.46L631.89 241.46L631.89 242.76L634.24 242.76L634.24 245.09L636.60 245.09L636.60 235.61L638.95 235.61L638.95 235.52L641.31 235.52L641.31 239.41L643.66 239.41L643.66 254.59L646.02 254.59L646.02 263.94L648.38 263.94L648.38 268.03L650.73 268.03L650.73 274.05L653.09 274.05L653.09 279.16L655.44 279.16L655.44 282.42L657.80 282.42L657.80 284.14L660.16 284.14L660.16 286.40L662.51 286.40L662.51 288.18L664.87 288.18L664.87 288.16L667.22 288.16L667.22 288.15L669.58 288.15L669.58 289.92L671.93 289.92L671.93 290.03L674.29 290.03L674.29 290.20L676.65 290.20L676.65 290.37L679.00 290.37L679.00 290.36L679.00 290.36L679.00 291.70 Z" fill="#9370db" fill-opacity="0.5" stroke="#000" stroke-opacity="0.62" stroke-width="0.7" stroke-linejoin="miter"/>
</g>
<line x1="537.65" y1="17.70" x2="537.65" y2="291.70" stroke="#96202c" stroke-width="0.85" stroke-dasharray="2.5 1.5" stroke-dashoffset="0"/>
<line x1="396.00" y1="17.40" x2="679.30" y2="17.40" stroke="#3a3a3a" stroke-width="0.8"/>
<line x1="396.00" y1="291.70" x2="679.30" y2="291.70" stroke="#3a3a3a" stroke-width="0.8"/>
<line x1="396.30" y1="17.40" x2="396.30" y2="291.70" stroke="#777" stroke-width="0.7"/>
<line x1="679.00" y1="17.40" x2="679.00" y2="291.70" stroke="#777" stroke-width="0.7"/>
<line x1="396.30" y1="291.70" x2="396.30" y2="293.50" stroke="#333" stroke-width="0.45"/>
<text class="tk" x="396.30" y="300.10" text-anchor="middle">−10.0</text>
<line x1="431.64" y1="291.70" x2="431.64" y2="293.50" stroke="#333" stroke-width="0.45"/>
<text class="tk" x="431.64" y="300.10" text-anchor="middle">−7.5</text>
<line x1="466.98" y1="291.70" x2="466.98" y2="293.50" stroke="#333" stroke-width="0.45"/>
<text class="tk" x="466.98" y="300.10" text-anchor="middle">−5.0</text>
<line x1="502.31" y1="291.70" x2="502.31" y2="293.50" stroke="#333" stroke-width="0.45"/>
<text class="tk" x="502.31" y="300.10" text-anchor="middle">−2.5</text>
<line x1="537.65" y1="291.70" x2="537.65" y2="293.50" stroke="#333" stroke-width="0.45"/>
<text class="tk" x="537.65" y="300.10" text-anchor="middle">0.0</text>
<line x1="572.99" y1="291.70" x2="572.99" y2="293.50" stroke="#333" stroke-width="0.45"/>
<text class="tk" x="572.99" y="300.10" text-anchor="middle">2.5</text>
<line x1="608.33" y1="291.70" x2="608.33" y2="293.50" stroke="#333" stroke-width="0.45"/>
<text class="tk" x="608.33" y="300.10" text-anchor="middle">5.0</text>
<line x1="643.66" y1="291.70" x2="643.66" y2="293.50" stroke="#333" stroke-width="0.45"/>
<text class="tk" x="643.66" y="300.10" text-anchor="middle">7.5</text>
<line x1="679.00" y1="291.70" x2="679.00" y2="293.50" stroke="#333" stroke-width="0.45"/>
<text class="tk" x="679.00" y="300.10" text-anchor="middle">10.0</text>
<line x1="394.50" y1="291.70" x2="396.30" y2="291.70" stroke="#333" stroke-width="0.45"/>
<text class="tk" style="font-size:4.85px" x="392.30" y="293.50" text-anchor="end">0</text>
<line x1="394.50" y1="247.47" x2="396.30" y2="247.47" stroke="#333" stroke-width="0.45"/>
<text class="tk" style="font-size:4.85px" x="392.30" y="249.27" text-anchor="end">1000</text>
<line x1="394.50" y1="203.24" x2="396.30" y2="203.24" stroke="#333" stroke-width="0.45"/>
<text class="tk" style="font-size:4.85px" x="392.30" y="205.04" text-anchor="end">2000</text>
<line x1="394.50" y1="159.01" x2="396.30" y2="159.01" stroke="#333" stroke-width="0.45"/>
<text class="tk" style="font-size:4.85px" x="392.30" y="160.81" text-anchor="end">3000</text>
<line x1="394.50" y1="114.78" x2="396.30" y2="114.78" stroke="#333" stroke-width="0.45"/>
<text class="tk" style="font-size:4.85px" x="392.30" y="116.58" text-anchor="end">4000</text>
<line x1="394.50" y1="70.55" x2="396.30" y2="70.55" stroke="#333" stroke-width="0.45"/>
<text class="tk" style="font-size:4.85px" x="392.30" y="72.35" text-anchor="end">5000</text>
<line x1="394.50" y1="26.32" x2="396.30" y2="26.32" stroke="#333" stroke-width="0.45"/>
<text class="tk" style="font-size:4.85px" x="392.30" y="28.12" text-anchor="end">6000</text>
<text class="ax" text-anchor="middle" transform="translate(375.80,155.00) rotate(-90)">Events</text>
<text class="ax" x="537.65" y="310.00" text-anchor="middle">XY − XY<tspan font-size="5.15px" dy="1.3">predict</tspan><tspan dy="-1.3">[mm]</tspan></text>
<text class="tt" x="537.65" y="13.90" text-anchor="middle"><tspan font-size="8.5px" font-style="normal" dy="-5.4">18</tspan><tspan dy="5.4">F</tspan></text>
<rect x="398.80" y="20.20" width="57.6" height="40" rx="1.2" fill="#fff" fill-opacity="0.8" stroke="#d4d4d4" stroke-width="0.5"/>
<rect x="401.70" y="23.10" width="12.3" height="4.5" fill="#cd5c5c" fill-opacity="0.5" stroke="#000" stroke-opacity="0.6" stroke-width="0.65"/>
<text class="lg" x="419.10" y="27.60">Not applied</text>
<rect x="401.70" y="32.72" width="12.3" height="4.5" fill="#daa520" fill-opacity="0.5" stroke="#000" stroke-opacity="0.6" stroke-width="0.65"/>
<text class="lg" x="419.10" y="37.22">1<tspan font-style="italic">σ</tspan></text>
<rect x="401.70" y="42.34" width="12.3" height="4.5" fill="#20b2aa" fill-opacity="0.5" stroke="#000" stroke-opacity="0.6" stroke-width="0.65"/>
<text class="lg" x="419.10" y="46.84">2<tspan font-style="italic">σ</tspan></text>
<rect x="401.70" y="51.96" width="12.3" height="4.5" fill="#9370db" fill-opacity="0.5" stroke="#000" stroke-opacity="0.6" stroke-width="0.65"/>
<text class="lg" x="419.10" y="56.46"><tspan dx="1.6">&gt;</tspan><tspan dx="0.8">2</tspan><tspan font-style="italic">σ</tspan></text>
<text class="cap" x="527.00" y="348.40" text-anchor="middle" letter-spacing="-0.5">(B)</text>
</g>
</svg></body></html>
